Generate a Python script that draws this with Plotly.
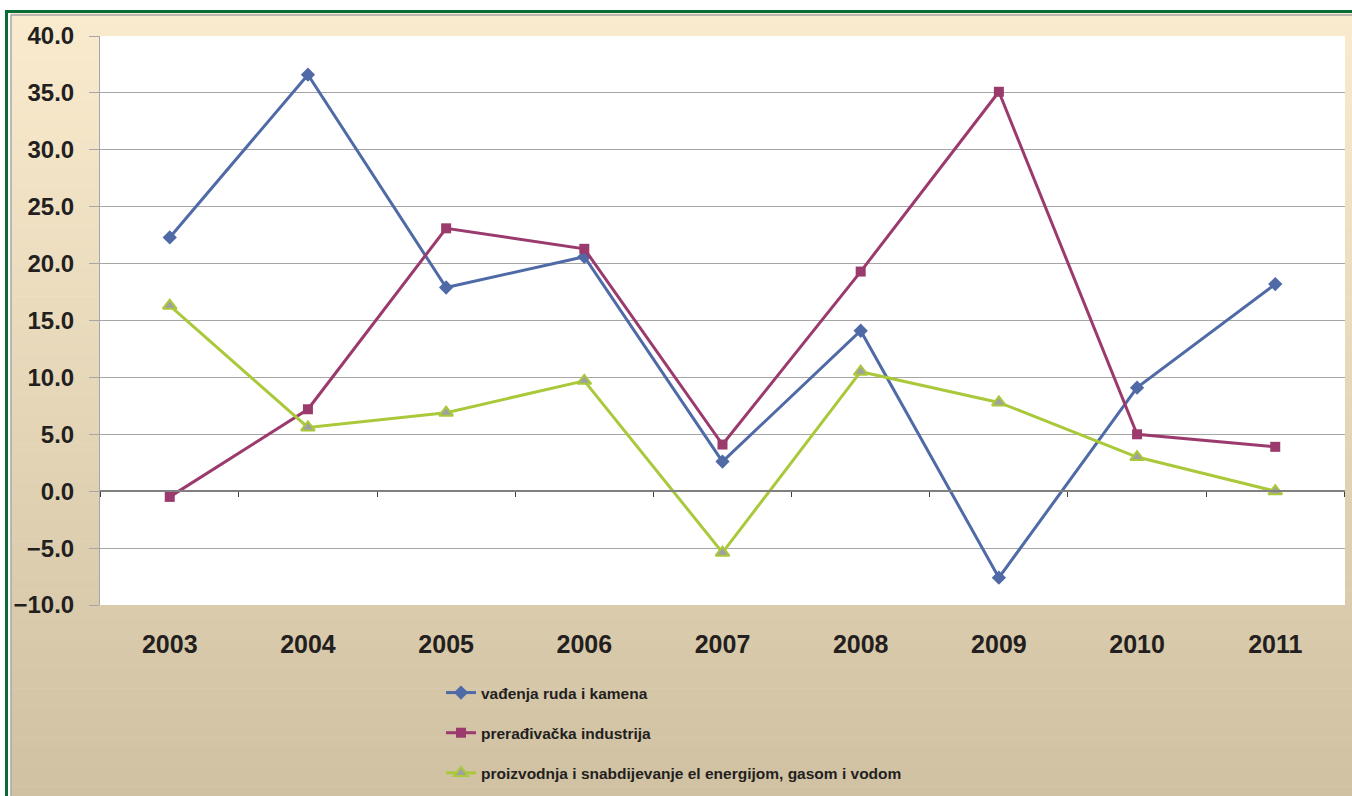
import plotly.graph_objects as go

years = ["2003", "2004", "2005", "2006", "2007", "2008", "2009", "2010", "2011"]
vadjenje = [22.3, 36.6, 17.9, 20.6, 2.6, 14.1, -7.6, 9.1, 18.2]
preradjivacka = [-0.5, 7.2, 23.1, 21.3, 4.1, 19.3, 35.1, 5.0, 3.9]
energija = [16.3, 5.6, 6.9, 9.7, -5.4, 10.5, 7.8, 3.0, 0.0]

names = ["vađenja ruda i kamena", "prerađivačka industrija",
         "proizvodnja i snabdijevanje el energijom, gasom i vodom"]

W, H = 1352, 796
PL, PR, PT, PB = 100, 1345, 36, 605


def px(x):
    return (x - PL) / (PR - PL)


def py(y):
    return (PB - y) / (PB - PT)


fig = go.Figure()

fig.add_trace(go.Scatter(x=years, y=vadjenje, name=names[0], mode="lines+markers",
                         line=dict(color="#4F6AA6", width=3),
                         marker=dict(symbol="diamond", size=11, color="#4F6AA6"),
                         legendgroup="a"))
fig.add_trace(go.Scatter(x=years, y=preradjivacka, name=names[1], mode="lines+markers",
                         line=dict(color="#9B3A6C", width=3),
                         marker=dict(symbol="square", size=10, color="#9B3A6C"),
                         legendgroup="b"))
fig.add_trace(go.Scatter(x=years, y=energija, name=names[2], mode="lines+markers",
                         line=dict(color="#A9C93A", width=3),
                         marker=dict(symbol="triangle-up", size=12, color="#A0A0A0",
                                     line=dict(color="#A9C93A", width=2)),
                         legendgroup="c"))

# dummy trace for zero-crossing axis
fig.add_trace(go.Scatter(x=years, y=[None] * len(years), xaxis="x2", showlegend=False,
                         hoverinfo="skip"))

shapes = []
# gradient background
top = (250, 235, 206)
bot = (208, 193, 162)
y0px, y1px = 12, H
n = 80
for i in range(n):
    a = y0px + (y1px - y0px) * i / n
    b = y0px + (y1px - y0px) * (i + 1) / n + 0.5
    t = i / (n - 1)
    c = tuple(round(top[k] + (bot[k] - top[k]) * t) for k in range(3))
    shapes.append(dict(type="rect", xref="paper", yref="paper", layer="below",
                       x0=px(11), x1=px(W + 5), y0=py(a), y1=py(b),
                       fillcolor="rgb(%d,%d,%d)" % c, line=dict(width=0)))
# white plot area
shapes.append(dict(type="rect", xref="paper", yref="paper", layer="below",
                   x0=0, x1=1, y0=0, y1=1, fillcolor="white", line=dict(width=0)))
# frame: green outer, gray inner
shapes.append(dict(type="rect", xref="paper", yref="paper", layer="below",
                   x0=px(6.5), x1=px(W + 20), y0=py(11.5), y1=py(H + 20),
                   fillcolor="rgba(0,0,0,0)", line=dict(color="#0B6B36", width=3)))
shapes.append(dict(type="rect", xref="paper", yref="paper", layer="below",
                   x0=px(11), x1=px(W + 20), y0=py(15), y1=py(H + 20),
                   fillcolor="rgba(0,0,0,0)", line=dict(color="#A8A8A8", width=1.5)))

ytickfont = dict(family="Liberation Sans", size=24, color="#231F20", weight="bold")
xtickfont = dict(family="Liberation Sans", size=25, color="#231F20", weight="bold")

fig.update_layout(
    width=W, height=H,
    margin=dict(l=PL, r=W - PR, t=PT, b=H - PB, autoexpand=False),
    paper_bgcolor="white",
    plot_bgcolor="white",
    shapes=shapes,
    showlegend=True,
    legend=dict(x=px(441), y=py(676), xanchor="left", yanchor="top",
                bgcolor="rgba(0,0,0,0)", tracegroupgap=17,
                font=dict(family="Liberation Sans", size=15.5, color="#231F20", weight="bold"),
                itemwidth=30),
    xaxis=dict(type="category", showgrid=False, showline=False, ticks="",
               tickfont=xtickfont, ticklabelstandoff=22, zeroline=False),
    xaxis2=dict(type="category", overlaying="x", anchor="free", position=0.2,
                side="bottom", showgrid=False, showline=True, linecolor="#808080",
                linewidth=1.5, ticks="outside", ticklen=5, tickcolor="#404040",
                tickson="boundaries", showticklabels=False, matches="x"),
    yaxis=dict(range=[-10, 40], dtick=5, tickformat=".1f", showgrid=True,
               gridcolor="#A6A6A6", gridwidth=1, showline=True, linecolor="#A6A6A6",
               ticks="outside", ticklen=10, tickcolor="#A6A6A6", zeroline=False,
               tickfont=ytickfont, ticklabelstandoff=10),
    hovermode=False,
)

fig.write_html("out.html", config={"displayModeBar": False},
               post_script="document.body.style.margin='0';document.body.style.overflow='hidden';")
